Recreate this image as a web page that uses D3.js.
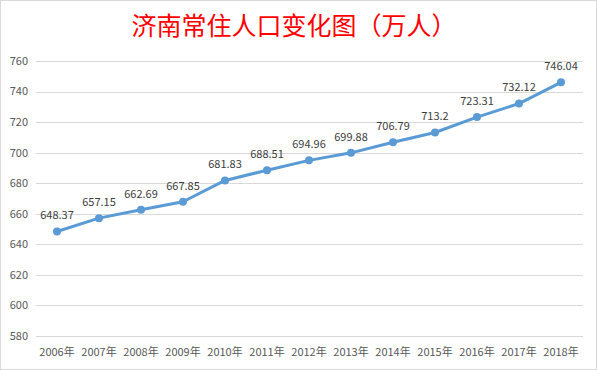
<!DOCTYPE html>
<meta charset="utf-8">
<head>
    <title>济南常住人口变化图</title>
    <style>
        body { margin: 0; background: #fff; }
        text { font-family: "Noto Sans CJK SC", "Noto Sans", sans-serif; }
    </style>
</head>

<script src="https://d3js.org/d3.v7.min.js"></script>

<div id="dataVis"></div>

<script>

    // data
    var years = ["2006年", "2007年", "2008年", "2009年", "2010年", "2011年", "2012年",
                 "2013年", "2014年", "2015年", "2016年", "2017年", "2018年"];
    var population = [648.37, 657.15, 662.69, 667.85, 681.83, 688.51, 694.96,
                      699.88, 706.79, 713.2, 723.31, 732.12, 746.04];
    var labels = ["648.37", "657.15", "662.69", "667.85", "681.83", "688.51", "694.96",
                  "699.88", "706.79", "713.2", "723.31", "732.12", "746.04"];
    var yTicks = [580, 600, 620, 640, 660, 680, 700, 720, 740, 760];

    var width = 597, height = 370;

    var svg = d3.select("#dataVis")
        .append("svg")
        .attr("width", width)
        .attr("height", height);

    // outer border
    svg.append("rect")
        .attr("x", 0.5).attr("y", 0.5)
        .attr("width", width - 1).attr("height", height - 1)
        .attr("fill", "#fff")
        .attr("stroke", "#d9d9d9");

    // title
    svg.append("text")
        .attr("x", 294)
        .attr("y", 35)
        .attr("text-anchor", "middle")
        .attr("fill", "#ff0000")
        .style("font-size", "25px")
        .text("济南常住人口变化图（万人）");

    var x = d3.scaleBand()
        .domain(years)
        .range([36, 582]);

    var y = d3.scaleLinear()
        .domain([580, 760])
        .range([336, 61]);

    // gridlines
    svg.append("g")
        .selectAll("line")
        .data(yTicks)
        .enter()
        .append("line")
        .attr("x1", 36)
        .attr("x2", 583)
        .attr("y1", function (d) { return Math.round(y(d)) + 0.5; })
        .attr("y2", function (d) { return Math.round(y(d)) + 0.5; })
        .attr("stroke", "#d9d9d9")
        .attr("stroke-width", 1);

    // y axis labels
    svg.append("g")
        .selectAll("text")
        .data(yTicks)
        .enter()
        .append("text")
        .attr("x", 28)
        .attr("y", function (d) { return y(d); })
        .attr("dy", "0.35em")
        .attr("text-anchor", "end")
        .attr("fill", "#595959")
        .style("font-size", "11px")
        .text(function (d) { return d; });

    // x axis labels
    svg.append("g")
        .selectAll("text")
        .data(years)
        .enter()
        .append("text")
        .attr("x", function (d) { return x(d) + x.bandwidth() / 2; })
        .attr("y", 352)
        .attr("dy", "0.35em")
        .attr("text-anchor", "middle")
        .attr("fill", "#595959")
        .style("font-size", "11px")
        .text(function (d) { return d; });

    var pts = years.map(function (d, i) { return { year: d, value: population[i], label: labels[i] }; });

    var line = d3.line()
        .x(function (d) { return x(d.year) + x.bandwidth() / 2; })
        .y(function (d) { return y(d.value); });

    svg.append("path")
        .datum(pts)
        .attr("fill", "none")
        .attr("stroke", "#5b9bd5")
        .attr("stroke-width", 3)
        .attr("stroke-linejoin", "round")
        .attr("d", line);

    svg.append("g")
        .selectAll("circle")
        .data(pts)
        .enter()
        .append("circle")
        .attr("cx", function (d) { return x(d.year) + x.bandwidth() / 2; })
        .attr("cy", function (d) { return y(d.value); })
        .attr("r", 4)
        .attr("fill", "#5b9bd5");

    // value labels
    svg.append("g")
        .selectAll("text")
        .data(pts)
        .enter()
        .append("text")
        .attr("x", function (d) { return x(d.year) + x.bandwidth() / 2; })
        .attr("y", function (d) { return y(d.value) - 16; })
        .attr("dy", "0.35em")
        .attr("text-anchor", "middle")
        .attr("fill", "#404040")
        .style("font-size", "11px")
        .text(function (d) { return d.label; });

</script>
